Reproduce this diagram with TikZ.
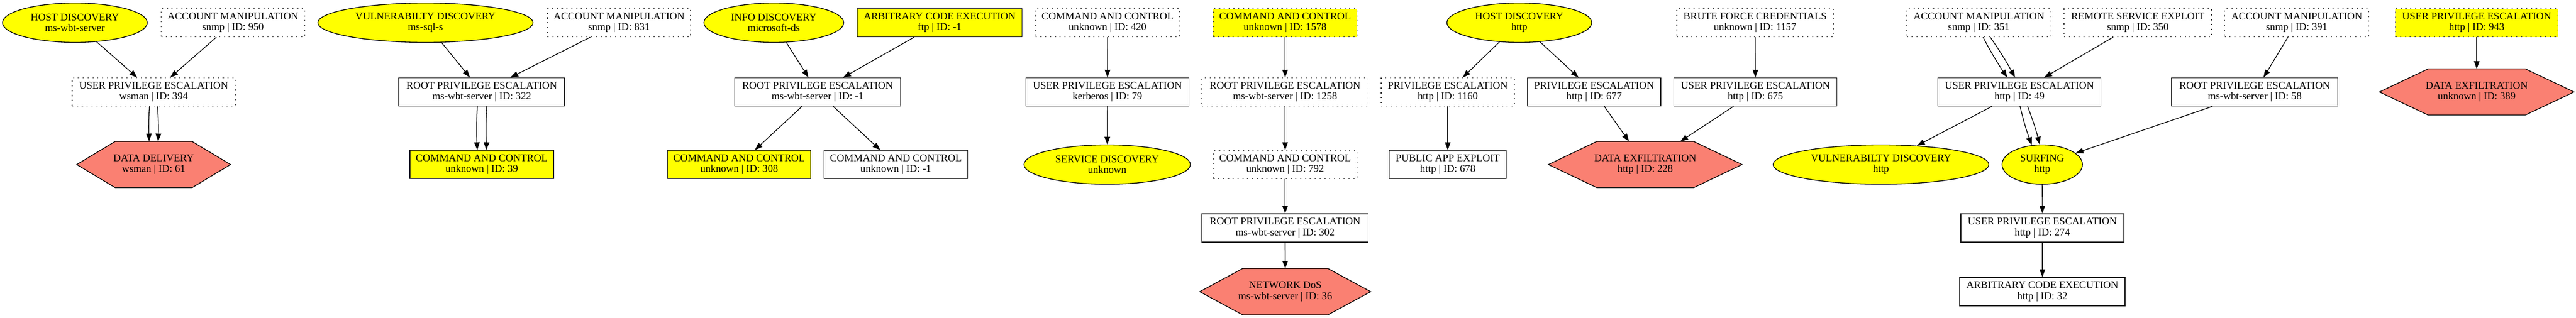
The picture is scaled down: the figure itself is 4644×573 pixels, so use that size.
\documentclass[tikz,border=0pt]{standalone}
\usepackage{fontspec}
\setmainfont{Liberation Serif}
\usetikzlibrary{shapes.geometric,arrows.meta,calc,backgrounds}
\definecolor{salmonc}{HTML}{FA8072}
\definecolor{yelc}{HTML}{FFFF00}
\tikzset{
  every node/.style={font=\fontsize{18.67}{19.5}\selectfont, align=center, inner sep=0pt},
  sbox/.style={rectangle, draw=black!90, line width=1.3pt, minimum height=51pt},
  dbox/.style={rectangle, draw=black!80, line width=1.3pt, dash pattern=on 2.2pt off 6.5pt, minimum height=51pt},
  yfill/.style={fill=yelc},
  ell/.style={ellipse, draw=black, line width=1.3pt, fill=yelc, minimum height=71pt},
  hexn/.style={rectangle, minimum height=83pt},
  conn/.style={-{Triangle[length=14pt,width=10pt]}, line width=1.3pt, black},
  hexdraw/.style={fill=salmonc, draw=black, line width=1.3pt, line join=miter}
}
\begin{document}
\begin{tikzpicture}[x=1pt,y=-1pt]
\useasboundingbox (0,0) rectangle (4644,573);
% ---------- row 1
\node[ell, minimum width=261pt] (hd1) at (135,41) {HOST DISCOVERY\\ms-wbt-server};
\node[dbox, minimum width=259pt] (am950) at (420,41) {ACCOUNT MANIPULATION\\snmp | ID: 950};
\node[ell, minimum width=388pt] (vd1) at (767,41) {VULNERABILTY DISCOVERY\\ms-sql-s};
\node[dbox, minimum width=258pt] (am831) at (1116,41) {ACCOUNT MANIPULATION\\snmp | ID: 831};
\node[ell, minimum width=252pt] (id1) at (1395,41) {INFO DISCOVERY\\microsoft-ds};
\node[sbox, yfill, minimum width=297pt] (ace1) at (1694,41) {ARBITRARY CODE EXECUTION\\ftp | ID: -1};
\node[dbox, minimum width=260pt] (cc420) at (1996.7,41) {COMMAND AND CONTROL\\unknown | ID: 420};
\node[dbox, yfill, minimum width=259pt] (cc1578) at (2316.8,41) {COMMAND AND CONTROL\\unknown | ID: 1578};
\node[ell, minimum width=261pt] (hd2) at (2739,41) {HOST DISCOVERY\\http};
\node[dbox, minimum width=282pt] (bf1157) at (3164,41) {BRUTE FORCE CREDENTIALS\\unknown | ID: 1157};
\node[dbox, minimum width=260pt] (am351) at (3567.5,41) {ACCOUNT MANIPULATION\\snmp | ID: 351};
\node[dbox, minimum width=266pt] (rse350) at (3854,41) {REMOTE SERVICE EXPLOIT\\snmp | ID: 350};
\node[dbox, minimum width=260pt] (am391) at (4140.5,41) {ACCOUNT MANIPULATION\\snmp | ID: 391};
\node[dbox, yfill, minimum width=293.5pt] (up943) at (4465,41) {USER PRIVILEGE ESCALATION\\http | ID: 943};
% ---------- row 2
\node[dbox, minimum width=294pt] (up394) at (277,166) {USER PRIVILEGE ESCALATION\\wsman | ID: 394};
\node[sbox, minimum width=299pt] (rp322) at (868.5,166) {ROOT PRIVILEGE ESCALATION\\ms-wbt-server | ID: 322};
\node[sbox, minimum width=299pt] (rpm1) at (1474,166) {ROOT PRIVILEGE ESCALATION\\ms-wbt-server | ID: -1};
\node[sbox, minimum width=294pt] (up79) at (1996.5,166) {USER PRIVILEGE ESCALATION\\kerberos | ID: 79};
\node[dbox, minimum width=300pt] (rp1258) at (2316.8,166) {ROOT PRIVILEGE ESCALATION\\ms-wbt-server | ID: 1258};
\node[dbox, minimum width=240pt] (pe1160) at (2610,166) {PRIVILEGE ESCALATION\\http | ID: 1160};
\node[sbox, minimum width=240pt] (pe677) at (2874,166) {PRIVILEGE ESCALATION\\http | ID: 677};
\node[sbox, minimum width=294pt] (up675) at (3164.7,166) {USER PRIVILEGE ESCALATION\\http | ID: 675};
\node[sbox, minimum width=294pt] (up49) at (3640.7,166) {USER PRIVILEGE ESCALATION\\http | ID: 49};
\node[sbox, minimum width=299.5pt] (rp58) at (4064.8,166) {ROOT PRIVILEGE ESCALATION\\ms-wbt-server | ID: 58};
\node[hexn, minimum width=350.5pt] (de389) at (4465,166) {DATA EXFILTRATION\\unknown | ID: 389};
% ---------- row 3
\node[hexn, minimum width=277pt] (dd61) at (277,297) {DATA DELIVERY\\wsman | ID: 61};
\node[sbox, yfill, minimum width=259pt] (cc39) at (868.5,297) {COMMAND AND CONTROL\\unknown | ID: 39};
\node[sbox, yfill, minimum width=258pt] (cc308) at (1332.6,297) {COMMAND AND CONTROL\\unknown | ID: 308};
\node[sbox, minimum width=259pt] (ccm1) at (1615,297) {COMMAND AND CONTROL\\unknown | ID: -1};
\node[ell, minimum width=300pt] (sd) at (1996,297) {SERVICE DISCOVERY\\unknown};
\node[dbox, minimum width=259pt] (cc792) at (2316.8,297) {COMMAND AND CONTROL\\unknown | ID: 792};
\node[sbox, minimum width=211pt] (pae678) at (2610,297) {PUBLIC APP EXPLOIT\\http | ID: 678};
\node[hexn, minimum width=349pt] (de228) at (2966,297) {DATA EXFILTRATION\\http | ID: 228};
\node[ell, minimum width=389pt] (vd2) at (3391,297) {VULNERABILTY DISCOVERY\\http};
\node[ell, minimum width=145pt] (surf) at (3681.7,297) {SURFING\\http};
% ---------- row 4
\node[sbox, minimum width=300pt] (rp302) at (2316.8,411.5) {ROOT PRIVILEGE ESCALATION\\ms-wbt-server | ID: 302};
\node[sbox, minimum width=294pt] (up274) at (3682,411.5) {USER PRIVILEGE ESCALATION\\http | ID: 274};
% ---------- row 5
\node[hexn, minimum width=308pt] (dos36) at (2317,526.5) {NETWORK DoS\\ms-wbt-server | ID: 36};
\node[sbox, minimum width=298pt] (ace32) at (3682,526.5) {ARBITRARY CODE EXECUTION\\http | ID: 32};
% ---------- hexagon outlines and background
\begin{pgfonlayer}{background}
\fill[white] (0,0) rectangle (4644,573);
\foreach \n in {dd61,de389,de228,dos36}{
  \draw[hexdraw] (\n.west) -- ($(\n.north west)!0.25!(\n.north east)$) -- ($(\n.north west)!0.75!(\n.north east)$) -- (\n.east) -- ($(\n.south west)!0.75!(\n.south east)$) -- ($(\n.south west)!0.25!(\n.south east)$) -- cycle;
}
\end{pgfonlayer}
% ---------- connectors
\draw[conn] (hd1) -- (up394);
\draw[conn] (am950) -- (up394);
\draw[conn] ([xshift=-7.5pt]up394.south) to[bend right=3] ([xshift=-8pt]dd61.north);
\draw[conn] ([xshift=7pt]up394.south) to[bend left=3] ([xshift=8pt]dd61.north);
\draw[conn] (vd1) -- (rp322);
\draw[conn] (am831) -- (rp322);
\draw[conn] ([xshift=-8pt]rp322.south) to[bend right=3] ([xshift=-8pt]cc39.north);
\draw[conn] ([xshift=8pt]rp322.south) to[bend left=3] ([xshift=8pt]cc39.north);
\draw[conn] (id1) -- (rpm1);
\draw[conn] (ace1) -- (rpm1);
\draw[conn] (rpm1) -- (cc308);
\draw[conn] (rpm1) -- (ccm1);
\draw[conn] (cc420) -- (up79);
\draw[conn] (up79) -- (sd);
\draw[conn] (cc1578) -- (rp1258);
\draw[conn] (rp1258) -- (cc792);
\draw[conn] (cc792) -- (rp302);
\draw[conn] (rp302) -- (dos36);
\draw[conn] (hd2) -- (pe1160);
\draw[conn] (hd2) -- (pe677);
\draw[conn] (pe1160) -- (pae678);
\draw[conn] (pe677) -- (de228);
\draw[conn] (bf1157) -- (up675);
\draw[conn] (up675) -- (de228);
\draw[conn] ([xshift=7.5pt]am351.south) to[bend right=3] ([xshift=-22pt]up49.north);
\draw[conn] ([xshift=20.5pt]am351.south) to[bend left=3] ([xshift=-8pt]up49.north);
\draw[conn] (rse350) -- (up49);
\draw[conn] (up49) -- (vd2);
\draw[conn] ([xshift=1pt]up49.south) to[bend right=3] ([xshift=-19pt,yshift=-1pt]surf.north);
\draw[conn] ([xshift=14.7pt]up49.south) to[bend left=3] ([xshift=-4.4pt]surf.north);
\draw[conn] (am391) -- (rp58);
\draw[conn] (rp58) -- (surf);
\draw[conn] (surf) -- (up274);
\draw[conn] (up274) -- (ace32);
\draw[conn] (up943) -- (de389);
\end{tikzpicture}
\end{document}
